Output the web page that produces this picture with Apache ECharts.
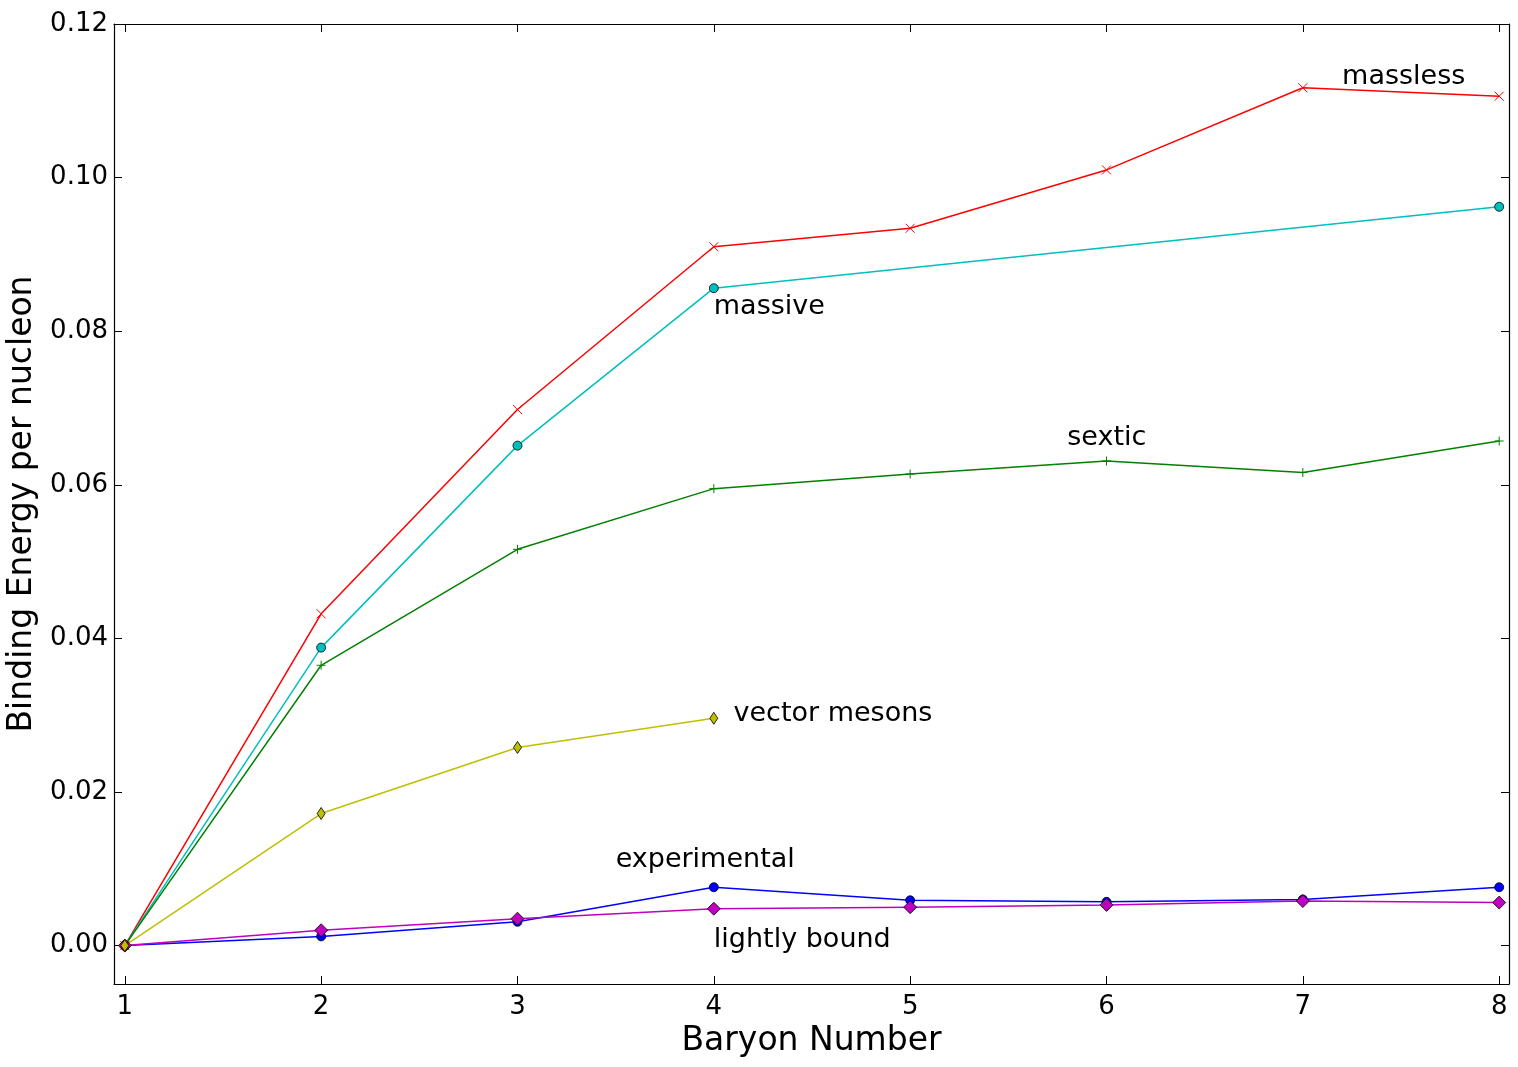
<!DOCTYPE html>
<html>
<head>
<meta charset="utf-8">
<script src="https://cdn.jsdelivr.net/npm/echarts@6/dist/echarts.min.js"></script>
<style>html,body{margin:0;padding:0;background:#fff;}#c{width:1518px;height:1067px;}</style>
</head>
<body>
<div id="c"></div>
<script>
const xTicks = [1, 2, 3, 4, 5, 6, 7, 8];
const yTicks = [0, 0.02, 0.04, 0.06, 0.08, 0.10, 0.12];

const masslessX = [1, 2, 3, 4, 5, 6, 7, 8];
const masslessY = [0, 0.0432, 0.0698, 0.0910, 0.0934, 0.1010, 0.1117, 0.1106];
const massiveX = [1, 2, 3, 4, 8];
const massiveY = [0, 0.0388, 0.0651, 0.0856, 0.0962];
const sexticX = [1, 2, 3, 4, 5, 6, 7, 8];
const sexticY = [0, 0.0365, 0.0516, 0.0595, 0.0614, 0.0631, 0.0616, 0.0657];
const experimentalX = [1, 2, 3, 4, 5, 6, 7, 8];
const experimentalY = [0, 0.0012, 0.0031, 0.0076, 0.0059, 0.0057, 0.0060, 0.0076];
const lightlyX = [1, 2, 3, 4, 5, 6, 7, 8];
const lightlyY = [0, 0.0020, 0.0035, 0.0048, 0.0050, 0.0053, 0.0058, 0.0056];
const vectorX = [1, 2, 3, 4];
const vectorY = [0, 0.0172, 0.0258, 0.0296];

const annText = ['massless', 'massive', 'sextic', 'vector mesons', 'experimental', 'lightly bound'];
const annX = [7.2, 4.0, 5.8, 4.1, 3.5, 4.0];
const annY = [0.112, 0.082, 0.065, 0.029, 0.010, -0.0004];

const zip = (xs, ys) => xs.map((x, i) => [x, ys[i]]);
const FONT = 'DejaVu Sans';
const xPath = 'path://M0,0L10,10M10,0L0,10';
const plusPath = 'path://M5,0L5,10M0,5L10,5';

function lineSeries(name, xs, ys, color, symbol, size, stroke) {
  return {
    name: name,
    type: 'line',
    data: zip(xs, ys),
    symbol: symbol,
    symbolSize: size,
    showAllSymbol: true,
    lineStyle: { color: color, width: 1.5 },
    itemStyle: stroke
      ? { color: color, borderColor: color, borderWidth: 1 }
      : { color: color, borderColor: '#000', borderWidth: 0.8 },
    emphasis: { disabled: true },
    animation: false,
    z: 2
  };
}

const series = [
  lineSeries('massless', masslessX, masslessY, '#ff0000', xPath, 9, true),
  lineSeries('massive', massiveX, massiveY, '#00bfbf', 'circle', 9, false),
  lineSeries('sextic', sexticX, sexticY, '#008000', plusPath, 9, true),
  lineSeries('experimental', experimentalX, experimentalY, '#0000ff', 'circle', 9, false),
  lineSeries('lightly bound', lightlyX, lightlyY, '#bf00bf', 'diamond', 13, false),
  lineSeries('vector mesons', vectorX, vectorY, '#bfbf00', 'diamond', [8, 12], false),
  {
    type: 'scatter',
    data: annText.map((t, i) => ({ value: [annX[i], annY[i]], name: t })),
    symbolSize: 0,
    silent: true,
    animation: false,
    itemStyle: { opacity: 1 },
    label: {
      show: true,
      position: [0, 0],
      align: 'left',
      verticalAlign: 'bottom',
      formatter: p => p.name,
      fontFamily: FONT,
      fontSize: 27,
      color: '#000',
      opacity: 1,
      offset: [0, 5]
    },
    z: 5
  }
];

const axisLine = { show: true, onZero: false, lineStyle: { color: '#000', width: 1.2 } };
const tickStyle = { lineStyle: { color: '#000', width: 1 } };

const option = {
  backgroundColor: '#fff',
  animation: false,
  grid: { left: 114, right: 9, top: 24, bottom: 83, containLabel: false, outerBoundsMode: 'none' },
  xAxis: [{
    type: 'value', min: 0.945, max: 8.05,
    name: 'Baryon Number', nameLocation: 'middle', nameGap: 40,
    nameTextStyle: { fontFamily: FONT, fontSize: 33, color: '#000' },
    axisLine: axisLine,
    axisTick: { show: true, inside: true, length: 8, customValues: xTicks, ...tickStyle },
    axisLabel: { show: true, customValues: xTicks, fontFamily: FONT, fontSize: 26, color: '#000', margin: 10 },
    splitLine: { show: false }
  }, {
    type: 'value', min: 0.945, max: 8.05, position: 'top',
    axisLine: axisLine,
    axisTick: { show: true, inside: true, length: 8, customValues: xTicks, ...tickStyle },
    axisLabel: { show: false },
    splitLine: { show: false }
  }],
  yAxis: [{
    type: 'value', min: -0.005, max: 0.12,
    name: 'Binding Energy per nucleon', nameLocation: 'middle', nameGap: 73,
    nameTextStyle: { fontFamily: FONT, fontSize: 33, color: '#000' },
    axisLine: axisLine,
    axisTick: { show: true, inside: true, length: 8, customValues: yTicks, ...tickStyle },
    axisLabel: { show: true, customValues: yTicks, fontFamily: FONT, fontSize: 26, color: '#000', margin: 6,
      formatter: v => v.toFixed(2) },
    splitLine: { show: false }
  }, {
    type: 'value', min: -0.005, max: 0.12, position: 'right',
    axisLine: axisLine,
    axisTick: { show: true, inside: true, length: 8, customValues: yTicks, ...tickStyle },
    axisLabel: { show: false },
    splitLine: { show: false }
  }],
  series: series
};

const chart = echarts.init(document.getElementById('c'), null, { renderer: 'canvas' });
chart.setOption(option);
</script>
</body>
</html>
